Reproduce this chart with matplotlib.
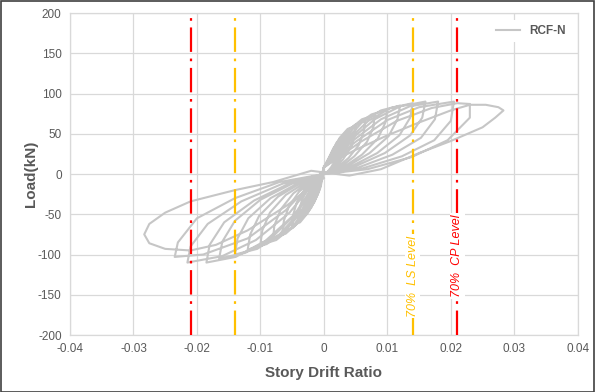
import numpy as np
import matplotlib
matplotlib.use('Agg')
import matplotlib.pyplot as plt
from matplotlib.patches import Rectangle

plt.rcParams['axes.unicode_minus'] = False

# hysteresis trace, drift in per mille (x1000), load in kN
drift_small = [
    0, 0.5, 1, 1.5, 2, 1.9, 1.7, 1.2, 0.6, 0, -0.6, -1.2, -1.7, -1.9, -2, -1.5, -1, -0.5, 0,
    0, 0.75, 1.5, 2.25, 3, 2.9, 2.55, 1.8, 0.9, 0, -0.9, -1.8, -2.55, -2.9, -3, -2.25, -1.5, -0.75, 0,
    0, 1, 2, 3, 4, 3.9, 3.4, 2.4, 1.2, 0, -1.2, -2.4, -3.4, -3.9, -4, -3, -2, -1, 0,
    0, 1.25, 2.5, 3.75, 5, 4.85, 4.25, 3, 1.5, 0, -1.5, -3, -4.25, -4.85, -5, -3.75, -2.5, -1.25, 0,
    0, 1.6, 3.25, 4.9, 6.5, 6.3, 5.5, 3.9, 1.95, 0, -1.95, -3.9, -5.5, -6.3, -6.5, -4.9, -3.25, -1.6, 0,
    0, 2, 4, 6, 8, 7.8, 6.8, 4.8, 2.4, 0, -2.4, -4.8, -6.8, -7.8, -8, -6, -4, -2, 0,
]
load_small = [
    8, 14, 23, 28, 30, 24, 16, 9, 3, 0, -4, -10, -19, -28, -35, -33, -26, -16, 5,
    8, 19, 32, 39, 42, 34, 23, 13, 4, 0, -6, -14, -26, -38, -47, -44, -35, -21, 5,
    8, 23, 39, 48, 52, 42, 29, 16, 5, 0, -7, -17, -31, -45, -56, -52, -42, -25, 5,
    8, 27, 45, 56, 60, 48, 33, 18, 6, 0, -8, -19, -35, -51, -64, -60, -48, -29, 5,
    8, 30, 50, 61, 66, 53, 36, 20, 7, 0, -9, -22, -40, -58, -72, -67, -54, -32, 5,
    8, 33, 55, 68, 73, 58, 40, 22, 7, 0, -10, -24, -44, -64, -80, -74, -60, -36, 5,
]
drift_mid = [
    0, 2.5, 5, 7.5, 10, 9.7, 8.5, 6, 3, 0, -3, -6, -8.5, -9.7, -10, -7.5, -5, -2.5, 0,
    0, 3, 6, 9, 12, 11.6, 10.2, 7.2, 3.6, 0, -3.6, -7.2, -10.2, -11.6, -12, -9, -6, -3, 0,
    0, 3.5, 7, 10.5, 14, 13.6, 11.9, 8.4, 4.2, 0, -4.2, -8.4, -11.9, -13.6, -14, -10.5, -7, -3.5, 0,
    0, 4, 8, 12, 16, 15.5, 13.6, 9.6, 4.8, 0, -5, -10, -14, -16, -16.5, -12.4, -8.2, -4.1, 0,
]
load_mid = [
    8, 36, 60, 74, 80, 64, 44, 24, 8, 0, -11, -26, -48, -70, -88, -82, -66, -40, 5,
    8, 38, 64, 79, 85, 68, 47, 26, 9, 0, -11, -28, -52, -75, -94, -87, -70, -42, 5,
    8, 40, 66, 82, 88, 70, 48, 26, 9, 0, -12, -30, -55, -80, -100, -93, -75, -45, 5,
    8, 41, 68, 84, 90, 70, 48, 26, 9, 0, -12, -32, -58, -84, -105, -98, -79, -47, 5,
]
drift_large = [
    0, 4.5, 9, 13.5, 18, 17.5, 15.3, 10.8, 5.4, 0, -5.5, -11, -15.7, -18, -18.5, -13.9, -9.2, -4.6, 0,
    0, 5, 10, 15, 20.5, 20, 17.4, 12.3, 6.1, 0, -6.5, -13, -18.3, -21, -21.5, -16, -10.7, -5.4, 0,
    0, 5.8, 11.5, 17, 21, 23, 23, 19.5, 13.8, 6.9, 0, -7, -14, -20, -23, -23.5, -19, -12, -6, 0,
    0, 5, 10, 15, 20, 23, 25.5, 27.5, 28.3, 27, 25, 20, 15, 9, 4, 0,
    -2, -8, -14, -21, -25, -27.5, -28.3, -27.5, -25, -21, -17, -12, -6, 0,
]
load_large = [
    8, 41, 68, 84, 90, 68, 45, 24, 8, 0, -12, -33, -60, -88, -110, -103, -83, -50, 5,
    8, 40, 67, 83, 90, 66, 42, 22, 7, 0, -12, -34, -62, -90, -110, -102, -82, -48, 5,
    8, 40, 66, 82, 88, 87, 70, 42, 21, 6, 0, -10, -30, -55, -85, -103, -100, -80, -45, 5,
    10, 30, 48, 64, 79, 86, 86, 83, 79, 70, 58, 41, 26, 6, -2, 2,
    4, -10, -20, -34, -48, -62, -75, -86, -93, -95, -88, -70, -40, -5,
]

drift = np.array(drift_small + drift_mid + drift_large) / 1000
load = np.array(load_small + load_mid + load_large)

ls_level = 0.014
cp_level = 0.021
yel = '#FFC000'
red = '#FF0000'
txt = '#595959'

fig = plt.figure(figsize=(5.95, 3.92), dpi=100)
ax = fig.add_axes([0.1176, 0.1454, 0.8534, 0.8214])

ax.plot(drift, load, color='#C6C6C6', lw=1.5, label='RCF-N', zorder=3)

dash = (0, (11, 3, 1.2, 3))
for xv, c in [(-cp_level, red), (cp_level, red), (-ls_level, yel), (ls_level, yel)]:
    ax.axvline(xv, color=c, lw=1.6, ls=dash, zorder=4)

ax.text(ls_level, -127, '70%  LS Level', rotation=90, color=yel, fontsize=9,
        style='italic', family='Liberation Sans', ha='center', va='center',
        bbox=dict(facecolor='white', edgecolor='none', pad=1), zorder=5)
ax.text(cp_level, -102, '70%  CP Level', rotation=90, color=red, fontsize=9,
        style='italic', family='Liberation Sans', ha='center', va='center',
        bbox=dict(facecolor='white', edgecolor='none', pad=1), zorder=5)

ax.set_xlim(-0.04, 0.04)
ax.set_ylim(-200, 200)
ax.set_xticks(np.arange(-0.04, 0.041, 0.01))
ax.set_xticklabels(['-0.04', '-0.03', '-0.02', '-0.01', '0', '0.01', '0.02', '0.03', '0.04'])
ax.set_yticks(np.arange(-200, 201, 50))
ax.grid(True, color='#D9D9D9', lw=0.9, zorder=0)
for s in ax.spines.values():
    s.set_color('#D9D9D9')
    s.set_linewidth(0.9)
ax.tick_params(length=0, labelsize=8.5, labelcolor=txt, pad=6)
for lab in ax.get_xticklabels() + ax.get_yticklabels():
    lab.set_family('Liberation Sans')

ax.set_xlabel('Story Drift Ratio', fontsize=11, fontweight='bold', color=txt,
              family='Liberation Sans', labelpad=8)
ax.set_ylabel('Load(kN)', fontsize=11, fontweight='bold', color=txt,
              family='Liberation Sans', labelpad=0)

leg = ax.legend(loc='upper right', frameon=True, handlelength=2.0,
                borderaxespad=0.6, prop={'family': 'Liberation Sans', 'weight': 'bold', 'size': 8.5})
leg.get_frame().set_edgecolor('none')
leg.get_frame().set_facecolor('white')
leg.get_frame().set_alpha(1)
for t in leg.get_texts():
    t.set_color(txt)

fig.patches.append(Rectangle((0.001, 0.001), 0.997, 0.997, transform=fig.transFigure,
                             fill=False, edgecolor='#404040', lw=1.2))

fig.savefig('out.png', dpi=100)
